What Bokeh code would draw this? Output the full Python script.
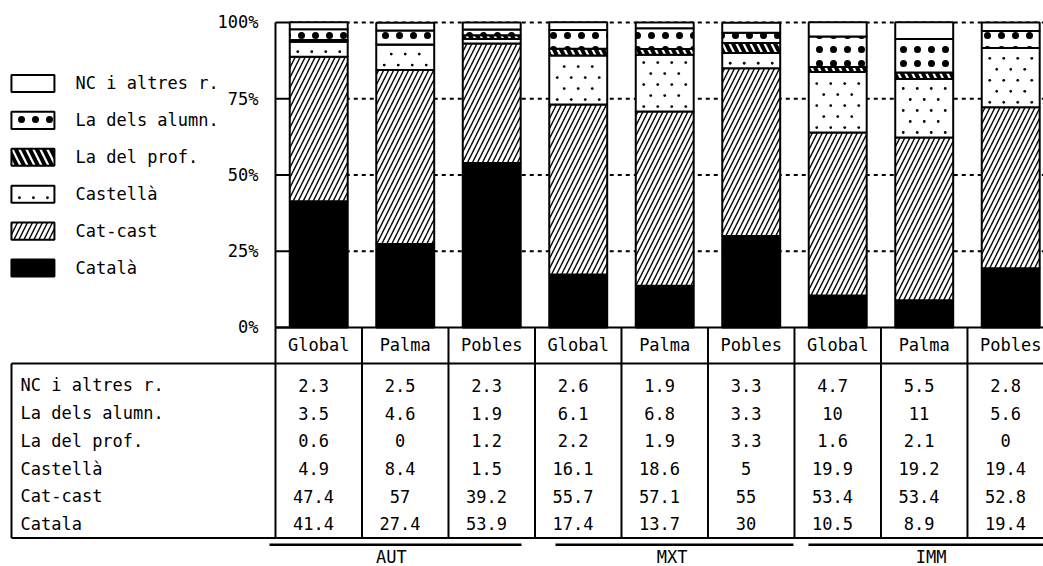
from bokeh.plotting import figure
from bokeh.models import ColumnDataSource, Range1d
from bokeh.core.properties import value
from bokeh.embed import file_html
from bokeh.resources import INLINE

# ---- data -------------------------------------------------------------
groups = ["AUT", "MXT", "IMM"]
places = ["Global", "Palma", "Pobles"]

nc_altres = [2.3, 2.5, 2.3, 2.6, 1.9, 3.3, 4.7, 5.5, 2.8]
dels_alumn = [3.5, 4.6, 1.9, 6.1, 6.8, 3.3, 10, 11, 5.6]
del_prof = [0.6, 0, 1.2, 2.2, 1.9, 3.3, 1.6, 2.1, 0]
castella = [4.9, 8.4, 1.5, 16.1, 18.6, 5, 19.9, 19.2, 19.4]
cat_cast = [47.4, 57, 39.2, 55.7, 57.1, 55, 53.4, 53.4, 52.8]
catala = [41.4, 27.4, 53.9, 17.4, 13.7, 30, 10.5, 8.9, 19.4]

legend_names = ["NC i altres r.", "La dels alumn.", "La del prof.",
                "Castellà", "Cat-cast", "Català"]
row_names = ["NC i altres r.", "La dels alumn.", "La del prof.",
             "Castellà", "Cat-cast", "Catala"]
y_ticks = [0, 25, 50, 75, 100]

# ---- styling ----------------------------------------------------------
FONT = value("DejaVu Sans Mono")
FSIZE = "17px"
W, H = 1043, 566
X0, X1 = -3.679, 8.379
Y0, Y1 = -78.36, 107.21
PX_X = W / (X1 - X0)   # screen pixels per x unit
PX_Y = H / (Y1 - Y0)   # screen pixels per percentage point

# keys listed bottom -> top of each stacked bar
keys = ["catala", "cat_cast", "castella", "del_prof", "dels_alumn", "nc_altres"]
fills = ["black", "white", "white", "white", "white", "white"]
hatches = [None, "/", None, "\\", ".", None]
hscale = [12, 10, 12, 14, 14, 12]
hweight = [1, 1.4, 1, 4, 3.5, 1]

n = len(catala)
xs = list(range(n))
src = ColumnDataSource(dict(x=xs, catala=catala, cat_cast=cat_cast, castella=castella,
                            del_prof=del_prof, dels_alumn=dels_alumn, nc_altres=nc_altres))

p = figure(width=W, height=H, x_range=Range1d(X0, X1), y_range=Range1d(Y0, Y1),
           x_axis_type=None, y_axis_type=None, output_backend="svg",
           toolbar_location=None, min_border=0)
p.grid.visible = False
p.outline_line_color = None
p.background_fill_color = "white"
p.border_fill_color = "white"

BAR_W = 0.67
AX_X = -0.5
TICK_END = -BAR_W / 2


def sparse_dots(left, width_px, lo, hi):
    """Staggered grid of small dots filling a box (left in x units, lo/hi in y units)."""
    px, py = [], []
    yy = lo + 5.0 / PX_Y
    k = 0
    while yy < hi - 3.0 / PX_Y:
        start = 8 if k % 2 == 0 else 15
        o = start
        while o < width_px - 5:
            px.append(left + o / PX_X)
            py.append(yy)
            o += 14
        yy += 11.0 / PX_Y
        k += 1
    return px, py


# dotted reference lines (hidden behind the bars)
for t in y_ticks[1:]:
    p.line([TICK_END, X1], [t, t], line_color="black", line_width=2, line_dash="4 4")

# stacked bars
p.vbar_stack(keys, x="x", width=BAR_W, source=src, fill_color=fills,
             line_color="black", line_width=2, hatch_pattern=hatches,
             hatch_scale=hscale, hatch_weight=hweight, hatch_color="black")

# fine dot texture of the "Castellà" segments
dx, dy = [], []
for i in range(n):
    lo = catala[i] + cat_cast[i]
    hi = lo + castella[i]
    a, b = sparse_dots(i - BAR_W / 2, BAR_W * PX_X, lo, hi)
    dx += a
    dy += b
p.scatter(dx, dy, marker="circle", size=2.8, fill_color="black", line_color=None)

# y axis: line, ticks, labels
p.line([AX_X, AX_X], [100, -69.0], line_color="black", line_width=2)
p.segment(x0=[AX_X] * len(y_ticks), y0=y_ticks, x1=[TICK_END] * len(y_ticks), y1=y_ticks,
          line_color="black", line_width=2)
p.text(x=[-0.697] * len(y_ticks), y=y_ticks, text=[f"{t}%" for t in y_ticks],
       text_font=FONT, text_font_size=FSIZE, text_align="right", text_baseline="middle",
       text_color="black")

# baseline
p.line([AX_X, X1], [0, 0], line_color="black", line_width=2)

# ---- legend -----------------------------------------------------------
LEG_X, LEG_W, LEG_H = -3.304, 0.497, 5.6
leg_y = [80.0 - 12.1 * i for i in range(len(legend_names))]
leg_fill = list(reversed(fills))
leg_hatch = list(reversed(hatches))
leg_scale = list(reversed(hscale))
leg_weight = list(reversed(hweight))
for i in range(len(legend_names)):
    p.rect(x=[LEG_X], y=[leg_y[i]], width=LEG_W, height=LEG_H, fill_color=leg_fill[i],
           line_color="black", line_width=2, hatch_pattern=leg_hatch[i],
           hatch_scale=leg_scale[i], hatch_weight=leg_weight[i], hatch_color="black")
ci = legend_names.index("Castellà")
a, b = sparse_dots(LEG_X - LEG_W / 2, LEG_W * PX_X, leg_y[ci] - LEG_H / 2, leg_y[ci] + LEG_H / 2)
p.scatter(a, b, marker="circle", size=2.8, fill_color="black", line_color=None)
p.text(x=[-2.812] * len(legend_names), y=leg_y, text=legend_names, text_font=FONT,
       text_font_size=FSIZE, text_align="left", text_baseline="middle", text_color="black")

# ---- data table -------------------------------------------------------
TBL_LEFT = -3.552
TBL_TOP = -11.8
TBL_BOT = -69.0
HEAD_Y = -5.9
ROW_Y0, ROW_STEP = -19.0, -9.08

for k in range(1, n):
    p.line([k - 0.5, k - 0.5], [0, TBL_BOT], line_color="black", line_width=2)
p.line([TBL_LEFT, X1], [TBL_TOP, TBL_TOP], line_color="black", line_width=2)
p.line([TBL_LEFT, X1], [TBL_BOT, TBL_BOT], line_color="black", line_width=2)
p.line([TBL_LEFT, TBL_LEFT], [TBL_TOP, TBL_BOT], line_color="black", line_width=2)

heads = places * len(groups)
p.text(x=xs, y=[HEAD_Y] * n, text=heads, text_font=FONT, text_font_size=FSIZE,
       text_align="center", text_baseline="middle", text_color="black")

rows = [nc_altres, dels_alumn, del_prof, castella, cat_cast, catala]
row_y = [ROW_Y0 + ROW_STEP * r for r in range(len(rows))]
p.text(x=[-3.448] * len(rows), y=row_y, text=row_names, text_font=FONT,
       text_font_size=FSIZE, text_align="left", text_baseline="middle", text_color="black")

vx, vy, vt = [], [], []
for r, vals in enumerate(rows):
    for c, v in enumerate(vals):
        vx.append(c - 0.06)
        vy.append(row_y[r])
        vt.append(f"{v:g}")
p.text(x=vx, y=vy, text=vt, text_font=FONT, text_font_size=FSIZE, text_align="center",
       text_baseline="middle", text_color="black")

# group underlines and names
grp_lines = [(-0.569, 2.344), (2.737, 5.488), (5.662, X1)]
grp_label_x = [0.839, 4.086, 7.08]
for a, b in grp_lines:
    p.line([a, b], [-71.2, -71.2], line_color="black", line_width=2.5)
p.text(x=grp_label_x, y=[-75.2] * len(groups), text=groups, text_font=FONT,
       text_font_size=FSIZE, text_align="center", text_baseline="middle", text_color="black")

open("out.html", "w").write(file_html(p, INLINE))
